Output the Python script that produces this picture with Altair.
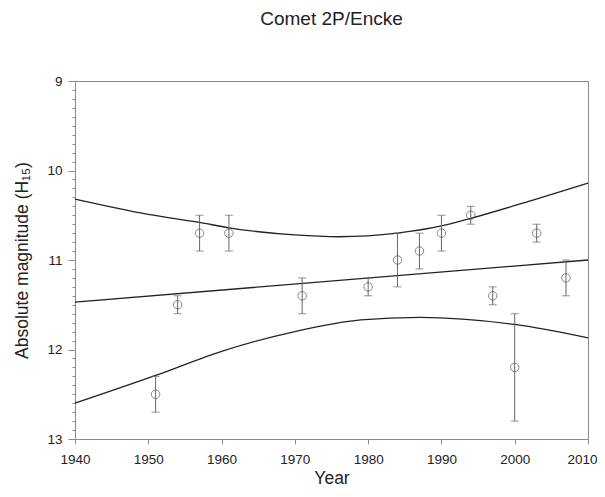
import altair as alt
import pandas as pd

# Observations (year, absolute magnitude H15, error-bar ends)
years = [1951, 1954, 1957, 1961, 1971, 1980, 1984, 1987, 1990, 1994, 1997, 2000, 2003, 2007]
mags = [12.5, 11.5, 10.7, 10.7, 11.4, 11.3, 11.0, 10.9, 10.7, 10.5, 11.4, 12.2, 10.7, 11.2]
err_top = [12.3, 11.4, 10.5, 10.5, 11.2, 11.2, 10.7, 10.7, 10.5, 10.4, 11.3, 11.6, 10.6, 11.0]
err_bot = [12.7, 11.6, 10.9, 10.9, 11.6, 11.4, 11.3, 11.1, 10.9, 10.6, 11.5, 12.8, 10.8, 11.4]

# Regression line and confidence curves
fit_years = [1940, 2010]
fit_mags = [11.47, 11.00]
upper_years = [1940, 1950, 1957, 1961, 1970, 1976, 1984, 1990, 1994, 2002.5, 2010]
upper_mags = [10.32, 10.49, 10.58, 10.64, 10.72, 10.74, 10.70, 10.62, 10.535, 10.33, 10.14]
lower_years = [1940, 1951, 1960, 1970, 1979, 1987, 2000, 2010]
lower_mags = [12.60, 12.29, 12.02, 11.80, 11.67, 11.64, 11.72, 11.87]

x_ticks = [1940, 1950, 1960, 1970, 1980, 1990, 2000, 2010]
y_ticks = [9, 10, 11, 12, 13]
y_minor = [round(9 + 0.1 * i, 1) for i in range(41)]

obs = pd.DataFrame({"year": years, "mag": mags, "lo": err_top, "hi": err_bot})
curves = pd.concat([
    pd.DataFrame({"year": fit_years, "mag": fit_mags, "curve": "fit"}),
    pd.DataFrame({"year": upper_years, "mag": upper_mags, "curve": "upper"}),
    pd.DataFrame({"year": lower_years, "mag": lower_mags, "curve": "lower"}),
])

FONT = "Liberation Sans"
AX = "#8a8a8a"

xscale = alt.Scale(domain=[1940, 2010], nice=False, zero=False)
yscale = alt.Scale(domain=[9, 13], reverse=True, nice=False, zero=False)

xaxis = alt.Axis(values=x_ticks, format="d", title="Year", grid=False,
                 tickSize=5, labelPadding=8, titlePadding=4,
                 labelFontSize=13.5, titleFontSize=17.5, titleFontWeight="normal",
                 labelColor="#222", titleColor="#222",
                 labelOffset={"condition": {"test": "datum.value == 2010", "value": -6}, "value": 0},
                 domainColor=AX, tickColor=AX, labelFlush=False)

yaxis_major = alt.Axis(values=y_ticks, format="d", title="Absolute magnitude (H₁₅)",
                       grid=False, tickSize=7, labelPadding=6, titlePadding=15,
                       labelFontSize=13.5, titleFontSize=17.5, titleFontWeight="normal",
                       labelColor="#222", titleColor="#222",
                       domainColor=AX, tickColor=AX, orient="left", labelFlush=False)

yaxis_minor = alt.Axis(values=y_minor, labels=False, title=None, grid=False,
                       tickSize=3, domain=False, tickColor=AX, orient="left")

lines = alt.Chart(curves).mark_line(color="#222", strokeWidth=1.3, interpolate="monotone").encode(
    x=alt.X("year:Q", scale=xscale, axis=xaxis),
    y=alt.Y("mag:Q", scale=yscale, axis=yaxis_major),
    detail="curve:N",
)

bars = alt.Chart(obs).mark_rule(color="#666", strokeWidth=1).encode(
    x=alt.X("year:Q", scale=xscale, axis=xaxis),
    y=alt.Y("lo:Q", scale=yscale, axis=yaxis_minor),
    y2="hi:Q",
)

cap_top = alt.Chart(obs).mark_tick(color="#666", orient="horizontal", size=8, thickness=1).encode(
    x=alt.X("year:Q", scale=xscale, axis=xaxis),
    y=alt.Y("lo:Q", scale=yscale, axis=None),
)
cap_bot = alt.Chart(obs).mark_tick(color="#666", orient="horizontal", size=8, thickness=1).encode(
    x=alt.X("year:Q", scale=xscale, axis=xaxis),
    y=alt.Y("hi:Q", scale=yscale, axis=None),
)

points = alt.Chart(obs).mark_point(shape="circle", filled=False, size=72,
                                   color="#555", strokeWidth=1).encode(
    x=alt.X("year:Q", scale=xscale, axis=xaxis),
    y=alt.Y("mag:Q", scale=yscale, axis=None),
)

chart = alt.layer(lines, bars, cap_top, cap_bot, points).resolve_axis(
    y="independent"
).properties(
    width=513,
    height=358,
    title=alt.TitleParams("Comet 2P/Encke", fontSize=19, font=FONT, fontWeight="normal",
                          color="#222", anchor="middle", frame="group", offset=45),
    autosize=alt.AutoSizeParams(type="none"),
    padding={"left": 67, "top": 73, "right": 9, "bottom": 50},
).configure(
    font=FONT,
).configure_view(
    stroke=AX, strokeWidth=1,
).configure_axis(
    labelFont=FONT, titleFont=FONT,
)

chart.save("out.html", embed_options={"renderer": "svg", "actions": False})
